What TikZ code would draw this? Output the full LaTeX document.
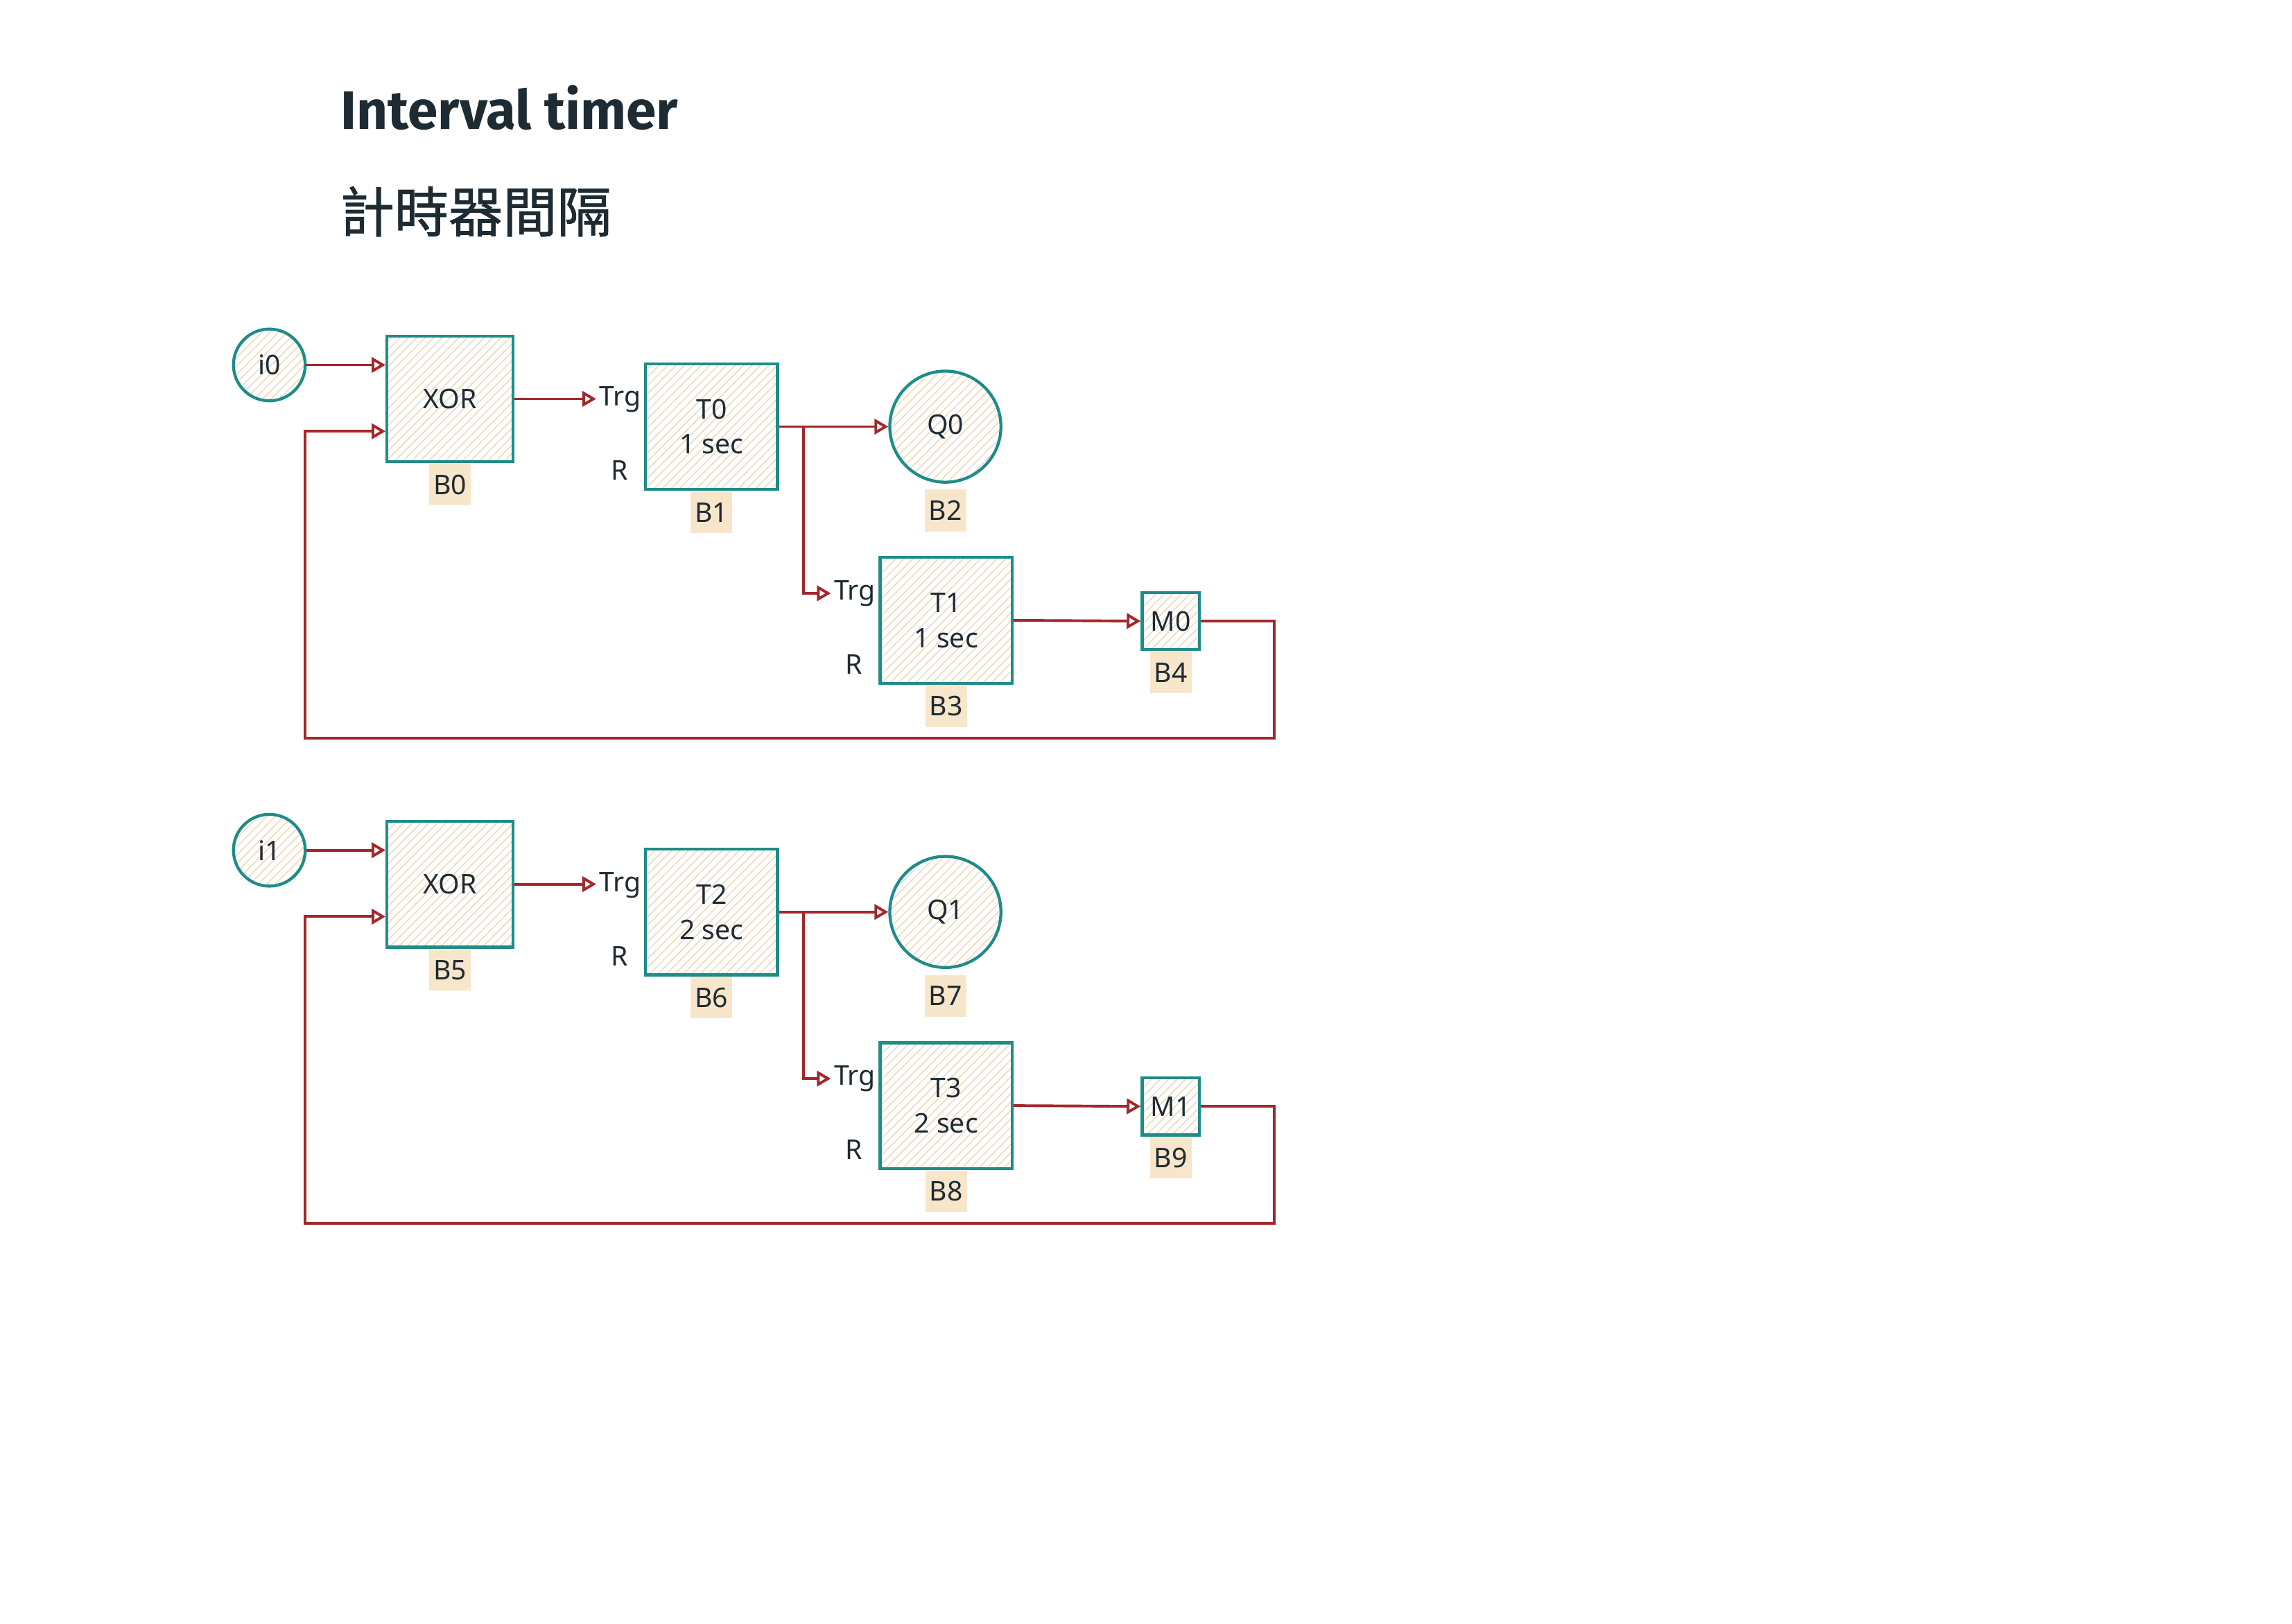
\documentclass[tikz,border=0pt]{standalone}
\usepackage{fontspec}
\setmainfont{Noto Sans}
\newfontfamily\titlefont{Fira Sans}
\newfontfamily\cjk{Noto Sans CJK TC}[FakeBold=1.2]
\usetikzlibrary{positioning,arrows.meta,patterns.meta}
\definecolor{boxline}{HTML}{1E8C87}
\definecolor{wirered}{HTML}{A3282C}
\definecolor{tagfill}{HTML}{F8E6CB}
\definecolor{ink}{HTML}{1E2B33}
\definecolor{hatch}{HTML}{EBD6B8}

\begin{document}
\begin{tikzpicture}[
  block/.style={draw=boxline, line width=1.1pt, pattern={Lines[angle=45,distance=2.2pt,line width=0.35pt]}, pattern color=hatch, minimum width=1.71cm, minimum height=1.63cm, inner sep=0pt, align=center, text=ink, font=\fontsize{10}{13}\selectfont},
  gate/.style={block, minimum width=1.63cm},
  lamp/.style={block, circle, minimum size=1.44cm},
  inp/.style={block, circle, minimum size=0.93cm},
  flagbox/.style={block, minimum width=0.74cm, minimum height=0.74cm},
  tag/.style={fill=tagfill, text=ink, minimum width=0.54cm, minimum height=0.54cm, inner sep=0pt, font=\fontsize{10}{12}\selectfont},
  port/.style={text=ink, inner sep=1pt, font=\fontsize{10}{12}\selectfont},
  wire/.style={draw=wirered, line width=1pt, -{Triangle[open,length=1.8mm,width=2mm]}}
]
\useasboundingbox (0,0) rectangle (29.7,21.04);

\node[anchor=base west, text=ink, inner sep=0pt, font=\fontsize{20}{22}\selectfont\titlefont\bfseries] (title) at (4.41,19.36) {Interval timer};
\node[anchor=west, text=ink, inner sep=0pt, font=\fontsize{20}{22}\selectfont\cjk] (subtitle) at (4.40,18.30) {計時器間隔};

\node[inp] (i0) at (3.49,16.31) {i0};
\node[gate] (xor0) at (5.83,15.87) {XOR};
\node[block] (t0) at (9.22,15.51) {T0\\1 sec};
\node[lamp] (q0) at (12.25,15.51) {Q0};
\node[block] (t1) at (12.26,13.00) {T1\\1 sec};
\node[flagbox] (m0) at (15.17,12.99) {M0};
\node[tag, below=0pt of xor0] (b0) {B0};
\node[tag, below=0pt of t0] (b1) {B1};
\node[tag, below=0.07cm of q0] (b2) {B2};
\node[tag, below=0pt of t1] (b3) {B3};
\node[tag, below=0pt of m0] (b4) {B4};
\node[port, anchor=east] (trg0) at ([yshift=0.35cm]t0.west) {Trg};
\node[port] (r0) at ([xshift=-0.32cm,yshift=-0.57cm]t0.west) {R};
\node[port, anchor=east] (trg1) at ([yshift=0.35cm]t1.west) {Trg};
\node[port] (r1) at ([xshift=-0.32cm,yshift=-0.57cm]t1.west) {R};
\coordinate (br0) at (10.41,15.51);
\coordinate (ret0) at (16.51,11.47);
\coordinate (retl0) at (3.95,11.47);
\draw[wire] (i0.east) -- (i0.east -| xor0.west);
\draw[wire] (xor0.east) -- (xor0.east -| trg0.west);
\draw[wire] (t0.east) -- (q0.west);
\draw[wire] (br0) |- (trg1.west);
\draw[wire] (t1.east) -- (m0.west);
\draw[wire] (m0.east) -| (ret0) -- (retl0) |- ([yshift=-0.42cm]xor0.west);

\node[inp] (i1) at (3.49,10.02) {i1};
\node[gate] (xor1) at (5.83,9.58) {XOR};
\node[block] (t2) at (9.22,9.22) {T2\\2 sec};
\node[lamp] (q1) at (12.25,9.22) {Q1};
\node[block] (t3) at (12.26,6.71) {T3\\2 sec};
\node[flagbox] (m1) at (15.17,6.70) {M1};
\node[tag, below=0pt of xor1] (b5) {B5};
\node[tag, below=0pt of t2] (b6) {B6};
\node[tag, below=0.07cm of q1] (b7) {B7};
\node[tag, below=0pt of t3] (b8) {B8};
\node[tag, below=0pt of m1] (b9) {B9};
\node[port, anchor=east] (trg2) at ([yshift=0.35cm]t2.west) {Trg};
\node[port] (r2) at ([xshift=-0.32cm,yshift=-0.57cm]t2.west) {R};
\node[port, anchor=east] (trg3) at ([yshift=0.35cm]t3.west) {Trg};
\node[port] (r3) at ([xshift=-0.32cm,yshift=-0.57cm]t3.west) {R};
\coordinate (br1) at (10.41,9.22);
\coordinate (ret1) at (16.51,5.18);
\coordinate (retl1) at (3.95,5.18);
\draw[wire] (i1.east) -- (i1.east -| xor1.west);
\draw[wire] (xor1.east) -- (xor1.east -| trg2.west);
\draw[wire] (t2.east) -- (q1.west);
\draw[wire] (br1) |- (trg3.west);
\draw[wire] (t3.east) -- (m1.west);
\draw[wire] (m1.east) -| (ret1) -- (retl1) |- ([yshift=-0.42cm]xor1.west);
\end{tikzpicture}
\end{document}
